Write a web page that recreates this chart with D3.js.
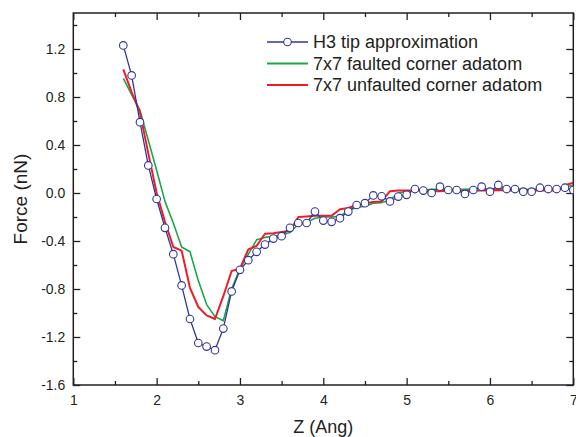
<!DOCTYPE html>
<html>
<head>
<meta charset="utf-8">
<script src="https://cdn.jsdelivr.net/npm/d3@7"></script>
<style>
  html, body { margin: 0; padding: 0; background: #fff; }
  svg { display: block; font-family: "Liberation Sans", Arial, Helvetica, sans-serif; }
</style>
</head>
<body>
<svg id="chart" width="576" height="437"></svg>
<script>
// Tip–sample separation (Angstrom), sampled every 0.1 Ang
const zValues = [
  1.6, 1.7, 1.8, 1.9, 2.0, 2.1, 2.2, 2.3, 2.4, 2.5,
  2.6, 2.7, 2.8, 2.9, 3.0, 3.1, 3.2, 3.3, 3.4, 3.5,
  3.6, 3.7, 3.8, 3.9, 4.0, 4.1, 4.2, 4.3, 4.4, 4.5,
  4.6, 4.7, 4.8, 4.9, 5.0, 5.1, 5.2, 5.3, 5.4, 5.5,
  5.6, 5.7, 5.8, 5.9, 6.0, 6.1, 6.2, 6.3, 6.4, 6.5,
  6.6, 6.7, 6.8, 6.9, 7.0
];

// Force (nN): H3 tip approximation
const h3Tip = [
  1.23, 0.98, 0.59, 0.23, -0.05, -0.29, -0.51, -0.77, -1.05, -1.25,
  -1.28, -1.31, -1.13, -0.82, -0.64, -0.56, -0.49, -0.43, -0.38, -0.36,
  -0.29, -0.25, -0.25, -0.155, -0.23, -0.24, -0.21, -0.155, -0.10, -0.085,
  -0.02, -0.028, -0.07, -0.03, -0.015, 0.033, 0.02, 0.0, 0.053, 0.025,
  0.025, -0.008, 0.025, 0.053, 0.011, 0.067, 0.033, 0.033, 0.011, 0.011,
  0.044, 0.033, 0.033, 0.044, 0.025
];

// Force (nN): 7x7 faulted corner adatom
const faulted = [
  0.955, 0.82, 0.69, 0.44, 0.19, -0.07, -0.25, -0.45, -0.49, -0.73,
  -0.93, -1.03, -1.065, -0.80, -0.63, -0.51, -0.39, -0.37, -0.36, -0.35,
  -0.33, -0.26, -0.245, -0.21, -0.20, -0.20, -0.195, -0.145, -0.12, -0.11,
  -0.085, -0.08, -0.06, 0.0, 0.015, 0.025, 0.025, 0.03, 0.03, 0.03,
  0.03, 0.03, 0.035, 0.035, 0.03, 0.035, 0.035, 0.035, 0.03, 0.03,
  0.035, 0.035, 0.035, 0.05, 0.065
];

// Force (nN): 7x7 unfaulted corner adatom
const unfaulted = [
  1.03, 0.84, 0.67, 0.33, 0.0, -0.24, -0.45, -0.48, -0.79, -0.95,
  -1.02, -1.05, -0.86, -0.65, -0.63, -0.47, -0.44, -0.34, -0.335, -0.325,
  -0.315, -0.20, -0.195, -0.19, -0.19, -0.19, -0.135, -0.125, -0.10, -0.085,
  -0.075, -0.07, 0.015, 0.02, 0.02, 0.02, 0.02, 0.015, 0.015, 0.02,
  0.02, 0.015, 0.02, 0.02, 0.02, 0.025, 0.02, 0.02, 0.02, 0.02,
  0.02, 0.02, 0.02, 0.065, 0.085
];

const seriesNames = ["H3 tip approximation", "7x7 faulted corner adatom", "7x7 unfaulted corner adatom"];
const seriesColors = ["#33359a", "#1aa64a", "#ee1c25"];

const xMajorTicks = [1, 2, 3, 4, 5, 6, 7];
const yMajorTicks = [-1.6, -1.2, -0.8, -0.4, 0.0, 0.4, 0.8, 1.2];
const yTickLabels = ["-1.6", "-1.2", "-0.8", "-0.4", "0.0", "0.4", "0.8", "1.2"];

const svg = d3.select("#chart");
const margin = { left: 73.3, right: 2.7, top: 13, bottom: 52 };
const W = 576, H = 437;
const x = d3.scaleLinear().domain([1, 7]).range([margin.left, W - margin.right]);
const y = d3.scaleLinear().domain([-1.6, 1.5]).range([H - margin.bottom, margin.top]);

const axisColor = "#231f20";
const x0 = x.range()[0], x1 = x.range()[1];
const y0 = y.range()[0], y1 = y.range()[1];

// minor tick positions
const xMinor = d3.range(1.5, 7, 1);
const yMinor = d3.range(-1.4, 1.5, 0.4).map(v => +v.toFixed(1));

svg.append("defs").append("clipPath").attr("id", "plotClip")
  .append("rect").attr("x", x0).attr("y", y1).attr("width", x1 - x0).attr("height", y0 - y1);

function styleAxis(g) {
  g.select(".domain").remove();
  g.selectAll(".tick line").attr("stroke", axisColor).attr("stroke-width", 1.3);
  g.selectAll(".tick text").attr("fill", axisColor).style("font-size", "14px");
}

// bottom axis (labels) + minor
svg.append("g").attr("transform", `translate(0,${y0})`)
  .call(d3.axisBottom(x).tickValues(xMajorTicks).tickFormat(d3.format("d"))
    .tickSizeInner(-7).tickSizeOuter(0).tickPadding(10))
  .call(styleAxis);
svg.append("g").attr("transform", `translate(0,${y0})`)
  .call(d3.axisBottom(x).tickValues(xMinor).tickFormat("").tickSizeInner(-4).tickSizeOuter(0))
  .call(styleAxis);
// top axis (ticks only)
svg.append("g").attr("transform", `translate(0,${y1})`)
  .call(d3.axisTop(x).tickValues(xMajorTicks).tickFormat("").tickSizeInner(-7).tickSizeOuter(0))
  .call(styleAxis);
svg.append("g").attr("transform", `translate(0,${y1})`)
  .call(d3.axisTop(x).tickValues(xMinor).tickFormat("").tickSizeInner(-4).tickSizeOuter(0))
  .call(styleAxis);
// left axis (labels) + minor
svg.append("g").attr("transform", `translate(${x0},0)`)
  .call(d3.axisLeft(y).tickValues(yMajorTicks).tickFormat((d, i) => yTickLabels[i])
    .tickSizeInner(-7).tickSizeOuter(0).tickPadding(8))
  .call(styleAxis);
svg.append("g").attr("transform", `translate(${x0},0)`)
  .call(d3.axisLeft(y).tickValues(yMinor).tickFormat("").tickSizeInner(-4).tickSizeOuter(0))
  .call(styleAxis);
// right axis (ticks only)
svg.append("g").attr("transform", `translate(${x1},0)`)
  .call(d3.axisRight(y).tickValues(yMajorTicks).tickFormat("").tickSizeInner(-7).tickSizeOuter(0))
  .call(styleAxis);
svg.append("g").attr("transform", `translate(${x1},0)`)
  .call(d3.axisRight(y).tickValues(yMinor).tickFormat("").tickSizeInner(-4).tickSizeOuter(0))
  .call(styleAxis);

// plot frame
svg.append("rect")
  .attr("x", x0).attr("y", y1).attr("width", x1 - x0).attr("height", y0 - y1)
  .attr("fill", "none").attr("stroke", axisColor).attr("stroke-width", 1.5);

// axis titles
svg.append("text")
  .attr("x", (x0 + x1) / 2).attr("y", 433)
  .attr("text-anchor", "middle").attr("fill", axisColor)
  .style("font-size", "18px").text("Z (Ang)");
svg.append("text")
  .attr("transform", `translate(27,${(y0 + y1) / 2}) rotate(-90)`)
  .attr("text-anchor", "middle").attr("fill", axisColor)
  .style("font-size", "19px").text("Force (nN)");

// data lines
const plot = svg.append("g").attr("clip-path", "url(#plotClip)");
const line = d3.line().x((d, i) => x(zValues[i])).y(d => y(d));

plot.append("path").datum(faulted)
  .attr("fill", "none").attr("stroke", seriesColors[1]).attr("stroke-width", 1.6)
  .attr("stroke-linejoin", "round").attr("d", line);
plot.append("path").datum(unfaulted)
  .attr("fill", "none").attr("stroke", seriesColors[2]).attr("stroke-width", 2)
  .attr("stroke-linejoin", "round").attr("d", line);
plot.append("path").datum(h3Tip)
  .attr("fill", "none").attr("stroke", seriesColors[0]).attr("stroke-width", 1.3)
  .attr("d", line);
plot.selectAll("circle.h3").data(h3Tip).join("circle")
  .attr("class", "h3")
  .attr("cx", (d, i) => x(zValues[i])).attr("cy", d => y(d)).attr("r", 3.8)
  .attr("fill", "#fff").attr("stroke", seriesColors[0]).attr("stroke-width", 1.1);

// legend
const legend = svg.append("g").attr("transform", "translate(267,42)");
seriesNames.forEach((name, i) => {
  const row = legend.append("g").attr("transform", `translate(0,${i * 21.5})`);
  row.append("line").attr("x1", 0).attr("x2", 41).attr("y1", 0).attr("y2", 0)
    .attr("stroke", seriesColors[i]).attr("stroke-width", i === 0 ? 1.3 : 1.8);
  if (i === 0) {
    row.append("circle").attr("cx", 20.5).attr("cy", 0).attr("r", 3.8)
      .attr("fill", "#fff").attr("stroke", seriesColors[0]).attr("stroke-width", 1.1);
  }
  row.append("text").attr("x", 46).attr("y", 6.3)
    .attr("fill", axisColor).style("font-size", "18px").text(name);
});
</script>
</body>
</html>
